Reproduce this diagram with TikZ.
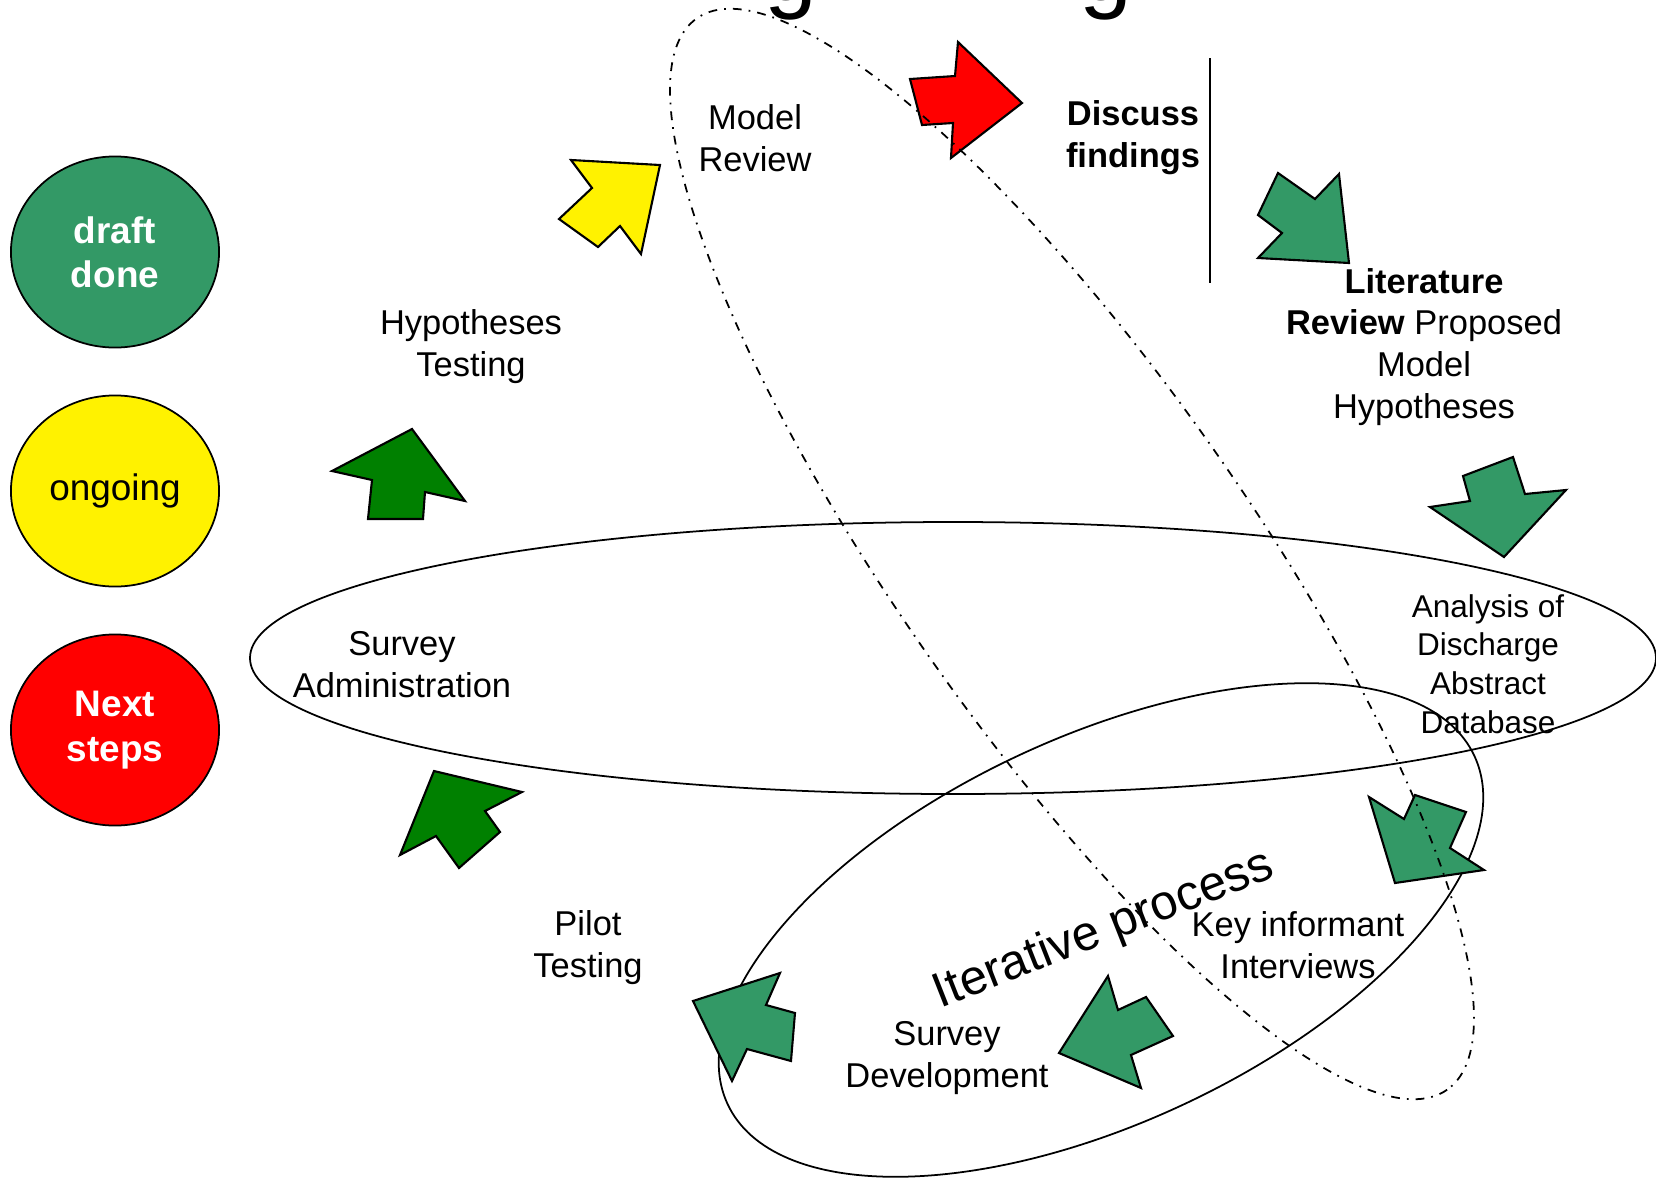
\documentclass[tikz,border=0pt]{standalone}
\usepackage{fontspec}
\setmainfont{Liberation Sans}
\usetikzlibrary{shapes.geometric}

\definecolor{donegreen}{RGB}{51,153,102}
\definecolor{darkgreen}{RGB}{0,128,0}

\tikzset{
        stepbox/.style={align=center, inner sep=0pt, font=\fontsize{9.8}{11.9}\selectfont},
        keyoval/.style={ellipse, draw=black, line width=0.5pt, minimum width=2.08cm, minimum height=1.91cm, inner sep=0pt, align=center, font=\fontsize{10.5}{12.6}\selectfont},
        blockarrow/.style={draw=black, line width=0.6pt, line join=miter}
}

\begin{document}
\begin{tikzpicture}[x=0.01cm, y=-0.01cm]
        \useasboundingbox (0,0) rectangle (1656,1178);
        \begin{scope}
        \clip (0,0) rectangle (1656,1178);

        % title, cut off at the top
        \node[anchor=base, inner sep=0pt, font=\fontsize{27}{30}\selectfont] (titleA) at (791,0) {g};
        \node[anchor=base, inner sep=0pt, font=\fontsize{27}{30}\selectfont] (titleB) at (1106,0) {g};

        % legend
        \node[keyoval, fill=donegreen, text=white, font=\fontsize{10.5}{12.6}\selectfont\bfseries] (done) at (115,252) {draft\\done};
        \node[keyoval, fill=yellow] (ongoing) at (115,491) {\raisebox{-1.2pt}{ongoing}};
        \node[keyoval, fill=red, text=white, font=\fontsize{10.5}{12.6}\selectfont\bfseries] (next) at (115,730) {\raisebox{-1.4pt}{Next}\\\raisebox{-1.4pt}{steps}};

        % loops
        \draw[line width=0.5pt] (953,658) ellipse [x radius=703, y radius=136];
        \draw[line width=0.5pt, rotate around={25:(1101,930)}] (1101,930) ellipse [x radius=412, y radius=193];
        \draw[line width=0.5pt] (1210,58) -- (1210,283);

        % arrows
        \filldraw[fill=yellow, blockarrow] (571,160) -- (660,165) -- (641,254) -- (620,226) -- (598,247) -- (559,219) -- (592,188) -- cycle;
        \filldraw[fill=red, blockarrow] (910,79) -- (955,76) -- (958,42) -- (1022,103) -- (951,158) -- (953,123) -- (922,125) -- cycle;
        \filldraw[fill=donegreen, blockarrow] (1278,173) -- (1315,199) -- (1339,174) -- (1349,263) -- (1258,258) -- (1282,233) -- (1258,215) -- cycle;
        \filldraw[fill=donegreen, blockarrow] (1463,476) -- (1513,457) -- (1525,494) -- (1566,490) -- (1504,557) -- (1430,507) -- (1470,501) -- cycle;
        \filldraw[fill=donegreen, blockarrow] (1369,797) -- (1404,819) -- (1415,795) -- (1466,812) -- (1450,848) -- (1484,870) -- (1395,883) -- cycle;
        \filldraw[fill=donegreen, blockarrow] (1108,976) -- (1118,1010) -- (1146,997) -- (1173,1036) -- (1131,1055) -- (1141,1088) -- (1059,1053) -- cycle;
        \filldraw[fill=donegreen, blockarrow] (693,1001) -- (780,973) -- (766,1005) -- (795,1013) -- (791,1061) -- (747,1049) -- (732,1081) -- cycle;
        \filldraw[fill=darkgreen, blockarrow] (434,771) -- (522,792) -- (485,811) -- (500,832) -- (459,868) -- (436,836) -- (400,855) -- cycle;
        \filldraw[fill=darkgreen, blockarrow] (332,471) -- (412,429) -- (465,501) -- (425,492) -- (423,519) -- (368,519) -- (372,480) -- cycle;

        %\draw[red] (1075,554) circle (5pt);
        \draw[line width=0.5pt, dash pattern=on 2.5pt off 2pt on 0.5pt off 2pt, rotate around={-55:(1072,554)}] (1072,554) ellipse [x radius=654, y radius=176];

        % steps
        \node[stepbox] (model) at (755,138) {Model\\Review};
        \node[stepbox, font=\fontsize{9.8}{11.9}\selectfont\bfseries] (discuss) at (1133,138) {Discuss\\findings};
        \node[stepbox] (litrev) at (1424,347) {\textbf{Literature}\\\textbf{Review} Proposed\\Model\\Hypotheses};
        \node[stepbox] (hyptest) at (471,347) {Hypotheses\\Testing};
        \node[stepbox] (survadmin) at (402,665) {Survey\\Administration};
        \node[stepbox, font=\fontsize{8.96}{10.97}\selectfont] (discharge) at (1488,664) {Analysis of\\Discharge\\Abstract\\Database};
        \node[stepbox] (pilot) at (588,948) {Pilot\\Testing};
        \node[stepbox] (survdev) at (947,1058) {Survey\\Development};
        \node[stepbox] (keyinf) at (1298,945) {Key informant\\Interviews};
        \node[anchor=base west, inner sep=0pt, rotate=21.5, font=\fontsize{14}{16}\selectfont] (iterative) at (940,1009) {Iterative process};
        \end{scope}
\end{tikzpicture}
\end{document}
